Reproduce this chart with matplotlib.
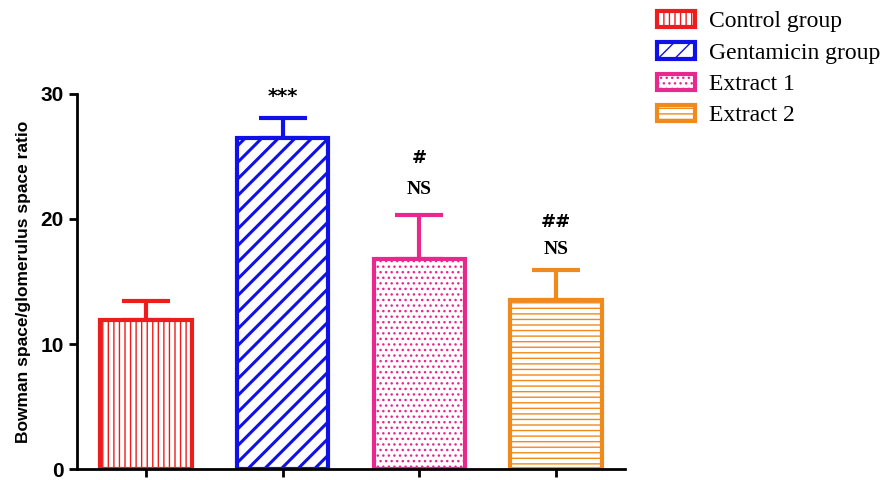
import numpy as np
import matplotlib.pyplot as plt

groups = ['Control group', 'Gentamicin group', 'Extract 1', 'Extract 2']
means = [11.9, 26.5, 16.8, 13.55]
errs = [1.5, 1.6, 3.55, 2.35]
marks = [[], ['***'], ['NS', '#'], ['NS', '##']]

colors = ['#ee1c1c', '#1010e8', '#e8288c', '#f08a1c']
hatches = ['|||', '//', '...', '---']
hatch_lw = [1.0, 2.2, 1.0, 1.0]

fig = plt.figure(figsize=(8.89, 4.8), dpi=100)
ax = fig.add_axes([0.0866, 0.0229, 0.6164, 0.7813])

x = np.arange(len(groups))
bars = []
for i in range(len(groups)):
    with plt.rc_context({'hatch.linewidth': hatch_lw[i]}):
        b = ax.bar(x[i], means[i], 0.67, color='white', edgecolor=colors[i],
                   hatch=hatches[i], linewidth=3, label=groups[i], zorder=2)
    bars.append(b)
    ax.errorbar(x[i], means[i], yerr=[[0], [errs[i]]], color=colors[i],
                elinewidth=3, capsize=17, capthick=3, zorder=1)

# significance marks above the error bars
for i in range(len(groups)):
    top = means[i] + errs[i]
    for m in marks[i]:
        if m == '***':
            fp = dict(family='DejaVu Sans', fontsize=14, fontweight='bold')
            o = 15
        elif m == 'NS':
            fp = dict(family='Liberation Serif', fontsize=14, fontweight='bold')
            o = 18 if i == 2 else 15
        else:
            fp = dict(family='DejaVu Sans', fontsize=13, fontweight='bold')
            o = 41 if i == 2 else 35
        ax.annotate(m, (x[i], top), xytext=(0, o), textcoords='offset points',
                    ha='center', va='center', **fp)

ax.set_xlim(-0.505, 3.505)
ax.set_ylim(0, 30)
ax.set_yticks([0, 10, 20, 30])
ax.set_xticks(x)
ax.set_xticklabels([])
for s in ['top', 'right']:
    ax.spines[s].set_visible(False)
for s in ['left', 'bottom']:
    ax.spines[s].set_linewidth(2)
ax.tick_params(width=2, length=6)
for lab in ax.get_yticklabels():
    lab.set_family('Liberation Sans')
    lab.set_fontweight('bold')
    lab.set_fontsize(15)
ax.set_ylabel('Bowman space/glomerulus space ratio', family='Liberation Sans',
              fontweight='bold', fontsize=12.5, labelpad=7)

fig.legend(handles=bars, labels=groups, loc='upper left',
           bbox_to_anchor=(0.727, 1.0), frameon=False,
           prop=dict(family='Liberation Serif', size=17),
           handlelength=1.6, handleheight=0.7, labelspacing=0.42,
           handletextpad=0.6, borderaxespad=0.05)

fig.savefig('out.png', dpi=100)
